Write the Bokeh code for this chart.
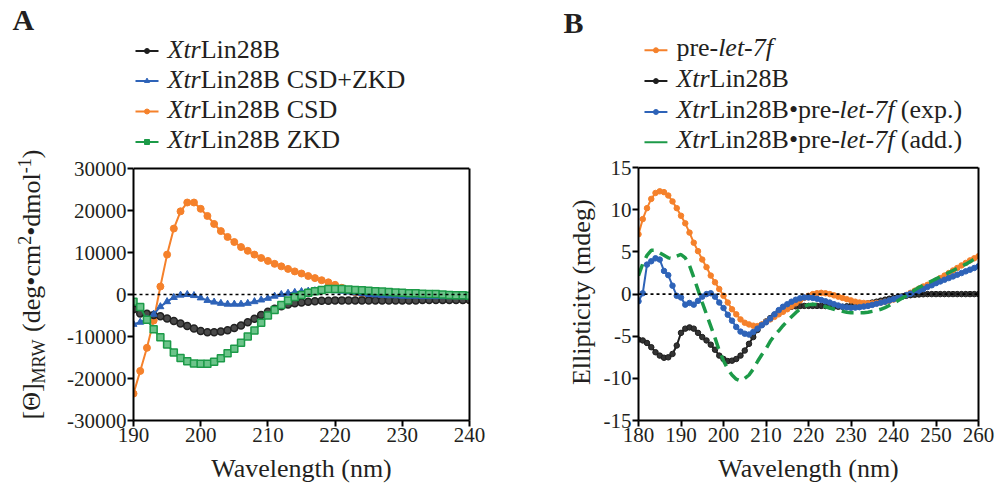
import numpy as np
from bokeh.plotting import figure
from bokeh.models import Range1d, FixedTicker, Span, LinearAxis
from bokeh.layouts import row
from bokeh.embed import file_html
from bokeh.resources import INLINE
from bokeh.core.properties import value

# ---------------- data ----------------
wl_a = list(range(190, 241))
xtr_lin28b_a = [-3500, -4500, -4600, -4900, -5200, -5700, -6300, -6900, -7500, -8100,
                -8700, -9000, -9000, -8800, -8500, -8000, -7400, -6600, -5800, -4900,
                -4100, -3400, -2800, -2400, -2100, -1900, -1700, -1600, -1500, -1500,
                -1400, -1400, -1400, -1400, -1400, -1400, -1400, -1400, -1400, -1400,
                -1400, -1400, -1400, -1300, -1300, -1300, -1300, -1300, -1300, -1300, -1300]
csd_zkd_a = [-7100, -6600, -5900, -4700, -2900, -1700, -700, -150, 0, -250,
             -800, -1400, -1800, -2100, -2300, -2300, -2300, -2100, -1700, -1300,
             -900, -400, 0, 300, 500, 700, 800, 900, 1000, 1000,
             900, 800, 600, 400, 200, 0, -100, -200, -300, -300,
             -400, -400, -400, -500, -500, -500, -500, -500, -500, -500, -500]
csd_a = [-23600, -18200, -12700, -6200, 1900, 9500, 15700, 19800, 21900, 21900,
         20400, 18700, 16800, 15100, 13700, 12500, 11300, 10400, 9500, 8700,
         8000, 7300, 6700, 6100, 5500, 5000, 4400, 3900, 3400, 2900,
         2300, 1600, 1000, 500, 100, -200, -400, -600, -700, -800,
         -900, -1000, -1000, -1100, -1100, -1100, -1200, -1200, -1200, -1300, -1300]
zkd_a = [-1700, -3000, -6000, -8300, -10200, -11900, -13800, -15100, -15900, -16400,
         -16500, -16500, -16000, -15200, -14000, -12900, -11500, -10000, -8600, -6700,
         -5000, -3700, -2500, -1400, -600, -100, 400, 800, 1100, 1300,
         1300, 1300, 1200, 1100, 1000, 900, 800, 700, 600, 500,
         400, 300, 300, 200, 100, 100, 0, -100, -200, -200, -300]

wl_b = list(range(180, 261))
pre_let7f_b = [7.1, 8.9, 10.2, 11.3, 12.0, 12.2, 12.1, 11.7, 11.0, 10.2,
               9.3, 8.4, 7.3, 6.1, 5.1, 4.1, 3.2, 2.2, 1.4, 0.6,
               -0.2, -1.0, -1.8, -2.4, -3.0, -3.4, -3.6, -3.75, -3.8, -3.6,
               -3.3, -3.0, -2.7, -2.4, -2.1, -1.8, -1.45, -1.1, -0.75, -0.45,
               -0.2, 0.0, 0.1, 0.15, 0.1, 0.0, -0.15, -0.3, -0.45, -0.6,
               -0.75, -0.9, -1.0, -1.05, -1.1, -1.1, -1.05, -1.0, -0.9, -0.8,
               -0.65, -0.5, -0.3, -0.1, 0.15, 0.4, 0.65, 0.9, 1.1, 1.35,
               1.6, 1.9, 2.2, 2.5, 2.8, 3.1, 3.4, 3.7, 4.0, 4.25, 4.5]
xtr_lin28b_b = [-5.4, -5.5, -5.8, -6.3, -6.9, -7.3, -7.55, -7.5, -7.1, -6.1,
                -4.6, -4.1, -3.95, -4.1, -4.6, -5.1, -5.5, -6.0, -6.6, -7.3,
                -7.7, -7.95, -7.9, -7.7, -7.3, -6.7, -5.9, -5.1, -4.25, -3.65,
                -3.25, -2.85, -2.45, -2.05, -1.8, -1.6, -1.5, -1.45, -1.42, -1.4,
                -1.4, -1.4, -1.4, -1.4, -1.42, -1.45, -1.48, -1.5, -1.5, -1.45,
                -1.4, -1.35, -1.28, -1.2, -1.1, -1.0, -0.9, -0.78, -0.66, -0.55,
                -0.45, -0.35, -0.27, -0.2, -0.13, -0.08, -0.04, -0.02, 0.0, 0.0,
                0.0, 0.0, 0.0, 0.0, 0.0, 0.0, 0.0, 0.0, 0.0, 0.0, 0.0]
complex_exp_b = [-0.85, 0.1, 3.5, 3.9, 4.25, 4.1, 2.75, 2.25, 1.0, -0.2,
                 -0.4, -1.25, -1.05, -1.25, -0.8, -0.3, 0.0, 0.1, -0.3, -1.0,
                 -1.65, -2.45, -3.15, -3.9, -4.45, -4.7, -4.8, -4.5, -4.1, -3.7,
                 -3.35, -2.9, -2.4, -1.9, -1.5, -1.2, -0.9, -0.67, -0.5, -0.4,
                 -0.4, -0.45, -0.55, -0.7, -0.85, -1.0, -1.2, -1.35, -1.5, -1.58,
                 -1.62, -1.6, -1.55, -1.48, -1.4, -1.28, -1.15, -1.02, -0.9, -0.75,
                 -0.6, -0.45, -0.3, -0.12, 0.05, 0.22, 0.4, 0.6, 0.85, 1.05,
                 1.3, 1.5, 1.7, 1.9, 2.1, 2.3, 2.5, 2.7, 2.9, 3.1, 3.3]
complex_add_b = [2.2, 3.6, 4.6, 5.2, 5.2, 4.9, 4.6, 4.3, 4.2, 4.5,
                 4.7, 4.3, 3.4, 2.0, 0.5, -1.0, -2.4, -3.8, -5.2, -6.7,
                 -7.9, -8.9, -9.6, -10.1, -10.3, -10.0, -9.6, -8.9, -8.0, -7.2,
                 -6.5, -5.6, -4.9, -4.35, -3.75, -3.2, -2.7, -2.2, -1.8, -1.45,
                 -1.25, -1.2, -1.25, -1.35, -1.5, -1.65, -1.8, -1.95, -2.05, -2.15,
                 -2.2, -2.2, -2.2, -2.2, -2.15, -2.05, -1.95, -1.8, -1.6, -1.35,
                 -1.1, -0.8, -0.5, -0.2, 0.15, 0.5, 0.8, 1.05, 1.3, 1.55,
                 1.8, 2.05, 2.3, 2.55, 2.8, 3.05, 3.3, 3.55, 3.85, 4.15, 4.5]

xticks_a = [190, 200, 210, 220, 230, 240]
yticks_a = [-30000, -20000, -10000, 0, 10000, 20000, 30000]
yticklabels_a = ["-30000", "-20000", "-10000", "0", "10000", "20000", "30000"]
xticks_b = [180, 190, 200, 210, 220, 230, 240, 250, 260]
yticks_b = [-15, -10, -5, 0, 5, 10, 15]
yticklabels_b = ["-15", "-10", "-5", "0", "5", "10", "15"]

legend_a = [
    [("Xtr", "italic"), ("Lin28B", "normal")],
    [("Xtr", "italic"), ("Lin28B CSD+ZKD", "normal")],
    [("Xtr", "italic"), ("Lin28B CSD", "normal")],
    [("Xtr", "italic"), ("Lin28B ZKD", "normal")],
]
legend_b = [
    [("pre-", "normal"), ("let-7f", "italic")],
    [("Xtr", "italic"), ("Lin28B", "normal")],
    [("Xtr", "italic"), ("Lin28B•pre-", "normal"), ("let-7f", "italic"), (" (exp.)", "normal")],
    [("Xtr", "italic"), ("Lin28B•pre-", "normal"), ("let-7f", "italic"), (" (add.)", "normal")],
]
ylabel_a = [("[Θ]", "main"), ("MRW", "sub"), (" (deg•cm", "main"), ("2", "sup"),
            ("•dmol", "main"), ("-1", "sup"), (")", "main")]
ylabel_b = "Ellipticity (mdeg)"
xlabel = "Wavelength (nm)"

# ---------------- style ----------------
FONT = "Liberation Serif"
TXT = "#231f20"
BLACK = "#1e1e1e"
ORANGE = "#f5812b"
BLUE = "#2e63b8"
GREEN = "#1c9a48"
H = 486
BASE_SHIFT = 0.36   # glyph baseline sits this many em below the text anchor

ROMAN = {' ': 250, '(': 333, ')': 333, '+': 564, '-': 333, '.': 250, '•': 350, '[': 333, ']': 333,
         'A': 722, 'B': 667, 'C': 667, 'D': 722, 'K': 722, 'L': 611, 'M': 889, 'R': 667, 'S': 556,
         'W': 944, 'X': 722, 'Z': 611, 'Θ': 722, 'a': 444, 'c': 444, 'd': 500, 'e': 444, 'g': 500,
         'i': 278, 'l': 278, 'm': 778, 'n': 500, 'o': 500, 'p': 500, 'r': 333, 't': 278, 'x': 500,
         'y': 500}
ITALIC = {'X': 611, 't': 278, 'r': 389, 'l': 278, 'e': 444, '-': 333, '7': 500, 'f': 278}


def tw(s, size, style="normal"):
    table = ITALIC if style == "italic" else ROMAN
    return sum(table.get(ch, 500) for ch in s) * size / 1000.0


def mapper(fl, fr, ft, fb, x0, x1, y0, y1):
    def mx(px):
        return x0 + (px - fl) * (x1 - x0) / (fr - fl)

    def my(py):
        return y0 + (fb - py) * (y1 - y0) / (fb - ft)
    return mx, my


def ident(v):
    return v


def put_text(p, mx, my, x_px, y_px, s, size, style="normal", rotated=False):
    """x_px, y_px: start of the glyph baseline in page pixels."""
    if rotated:
        ax, ay, ang = x_px - BASE_SHIFT * size, y_px, np.pi / 2
    else:
        ax, ay, ang = x_px, y_px - BASE_SHIFT * size, 0.0
    p.text(x=[mx(ax)], y=[my(ay)], text=[s], text_font=value(FONT), text_font_size=f"{size}px",
           text_font_style=style, text_color=TXT, text_baseline="alphabetic",
           text_align="left", angle=ang)


def rich_text(p, mx, my, x_px, base_px, pieces, size):
    x = x_px
    for s, st in pieces:
        lead = len(s) - len(s.lstrip(" "))
        x += tw(" " * lead, size, st)
        s2 = s.lstrip(" ")
        put_text(p, mx, my, x, base_px, s2, size, st)
        x += tw(s2, size, st)


def label_fig(x0, x1, fb):
    # same vertical frame as the neighbouring plot: frame spans page rows 0..fb
    f = figure(width=x1 - x0, height=H, output_backend="svg", toolbar_location=None,
               x_range=Range1d(x0, x1), y_range=Range1d(fb, 0), x_axis_type=None,
               y_axis_type=None, min_border=0, min_border_left=0, min_border_right=0,
               min_border_top=0, min_border_bottom=H - fb, background_fill_color="white",
               border_fill_color="white")
    f.outline_line_color = None
    f.grid.visible = False
    return f


def style_axes(p, xticks, yticks, ylabels, ybounds):
    p.xgrid.visible = False
    p.ygrid.visible = False
    p.outline_line_color = None
    for ax in (p.xaxis[0], p.yaxis[0]):
        ax.axis_line_width = 2
        ax.axis_line_color = "black"
        ax.major_tick_line_width = 2
        ax.major_tick_line_color = "black"
        ax.major_tick_out = 6
        ax.major_tick_in = 0
        ax.minor_tick_line_color = None
        ax.major_label_text_font = FONT
        ax.major_label_text_font_size = "21px"
        ax.major_label_text_color = TXT
        ax.major_label_standoff = 1
        ax.axis_label_text_font = FONT
        ax.axis_label_text_font_size = "26px"
        ax.axis_label_text_font_style = "normal"
        ax.axis_label_text_color = TXT
    p.xaxis[0].ticker = FixedTicker(ticks=xticks)
    p.yaxis[0].ticker = FixedTicker(ticks=yticks)
    p.yaxis[0].major_label_overrides = {t: l for t, l in zip(yticks, ylabels)}
    p.yaxis[0].bounds = ybounds
    p.xaxis[0].axis_label = xlabel
    p.xaxis[0].axis_label_standoff = 9
    right = LinearAxis(ticker=FixedTicker(ticks=[]), bounds=ybounds, axis_line_width=2,
                       axis_line_color="black", major_tick_line_color=None,
                       minor_tick_line_color=None, major_label_text_font_size="0px")
    p.add_layout(right, "right")
    p.add_layout(Span(location=ybounds[1], dimension="width", line_color="black", line_width=2))
    p.add_layout(Span(location=0, dimension="width", line_color="black", line_width=1.6,
                      line_dash="3 3"))


# ---------------- panel A ----------------
LA_W = 60
A_FL, A_FR, A_FT, A_FB = 133, 469, 168, 420
A_RIGHT = 498
mxA, myA = mapper(A_FL, A_FR, A_FT, A_FB, 190, 240, -30000, 30000)
labA = label_fig(0, LA_W, A_FB)
put_text(labA, ident, ident, 12, 30, "A", 30, "bold")
sizes = {"main": 26, "sub": 18, "sup": 18}
shift = {"main": 0, "sub": 5, "sup": -10}
ypos = A_FB - 1
for s, kind in ylabel_a:
    sz = sizes[kind]
    lead = len(s) - len(s.lstrip(" "))
    ypos -= tw(" " * lead, sz)
    s2 = s.lstrip(" ")
    put_text(labA, ident, ident, 40 + shift[kind], ypos, s2, sz, "normal", rotated=True)
    ypos -= tw(s2, sz)

pA = figure(width=A_RIGHT - LA_W, height=H, output_backend="svg", toolbar_location=None,
            x_range=Range1d(190, 240), y_range=Range1d(-30000, myA(0)),
            min_border_left=A_FL - LA_W, min_border_right=A_RIGHT - A_FR, min_border_top=0,
            min_border_bottom=H - A_FB, background_fill_color="white", border_fill_color="white")
style_axes(pA, xticks_a, yticks_a, yticklabels_a, (-30000, 30000))

pA.line(wl_a, csd_a, line_color=ORANGE, line_width=2)
pA.scatter(wl_a, csd_a, marker="circle", size=7, fill_color=ORANGE, line_color=ORANGE)
pA.line(wl_a, xtr_lin28b_a, line_color=BLACK, line_width=2)
pA.scatter(wl_a, xtr_lin28b_a, marker="circle", size=7, fill_color="#4a4a4a", line_color="#222222",
           line_width=1.5)
pA.line(wl_a, csd_zkd_a, line_color=BLUE, line_width=2)
pA.scatter(wl_a, csd_zkd_a, marker="triangle", size=7, fill_color=BLUE, line_color=BLUE)
pA.line(wl_a, zkd_a, line_color=GREEN, line_width=2)
pA.scatter(wl_a, zkd_a, marker="square", size=7, fill_color="#6cc48a", line_color=GREEN,
           line_width=1.5)

leg_a_colors = [BLACK, BLUE, ORANGE, GREEN]
leg_a_markers = ["circle", "triangle", "circle", "square"]
leg_a_base = [58, 88, 118, 148]
leg_a_mid = [50.5, 80.5, 111, 141.5]
for pieces, col, mk, base, mid in zip(legend_a, leg_a_colors, leg_a_markers, leg_a_base, leg_a_mid):
    pA.line([mxA(135), mxA(158)], [myA(mid), myA(mid)], line_color=col, line_width=2)
    pA.scatter([mxA(146.5)], [myA(mid)], marker=mk, size=5, fill_color=col, line_color=col)
    rich_text(pA, mxA, myA, 167, base, pieces, 26)

# ---------------- panel B ----------------
LB_X0, LB_X1 = 498, 600
B_FL, B_FR, B_FT, B_FB = 637, 978, 168, 422
B_RIGHT = 995
mxB, myB = mapper(B_FL, B_FR, B_FT, B_FB, 180, 260, -15, 15)
labB = label_fig(LB_X0, LB_X1, B_FB)
put_text(labB, ident, ident, 563, 33, "B", 30, "bold")
yl_len = tw(ylabel_b, 26)
put_text(labB, ident, ident, 590, (B_FT + B_FB) / 2 + yl_len / 2, ylabel_b, 26, "normal",
         rotated=True)

pB = figure(width=B_RIGHT - LB_X1, height=H, output_backend="svg", toolbar_location=None,
            x_range=Range1d(180, 260), y_range=Range1d(-15, myB(0)),
            min_border_left=B_FL - LB_X1, min_border_right=B_RIGHT - B_FR, min_border_top=0,
            min_border_bottom=H - B_FB, background_fill_color="white", border_fill_color="white")
style_axes(pB, xticks_b, yticks_b, yticklabels_b, (-15, 15))

pB.line(wl_b, xtr_lin28b_b, line_color=BLACK, line_width=2)
pB.scatter(wl_b, xtr_lin28b_b, marker="circle", size=5.5, fill_color="#333333", line_color=BLACK)
pB.line(wl_b, pre_let7f_b, line_color=ORANGE, line_width=2)
pB.scatter(wl_b, pre_let7f_b, marker="circle", size=5.5, fill_color=ORANGE, line_color=ORANGE)
pB.line(wl_b, complex_exp_b, line_color=BLUE, line_width=2)
pB.scatter(wl_b, complex_exp_b, marker="circle", size=5.5, fill_color=BLUE, line_color=BLUE)
pB.line(wl_b, complex_add_b, line_color=GREEN, line_width=3.5, line_dash="12 7")

leg_b_colors = [ORANGE, BLACK, BLUE, GREEN]
leg_b_marker = [True, True, True, False]
leg_b_base = [57, 88, 119, 149]
leg_b_mid = [50, 81, 112, 142.5]
for pieces, col, mk, base, mid in zip(legend_b, leg_b_colors, leg_b_marker, leg_b_base, leg_b_mid):
    pB.line([mxB(643), mxB(666)], [myB(mid), myB(mid)], line_color=col, line_width=2)
    if mk:
        pB.scatter([mxB(654.5)], [myB(mid)], marker="circle", size=5, fill_color=col, line_color=col)
    rich_text(pB, mxB, myB, 675, base, pieces, 26)

layout = row(labA, pA, labB, pB)
open("out.html", "w").write(file_html(layout, INLINE))
